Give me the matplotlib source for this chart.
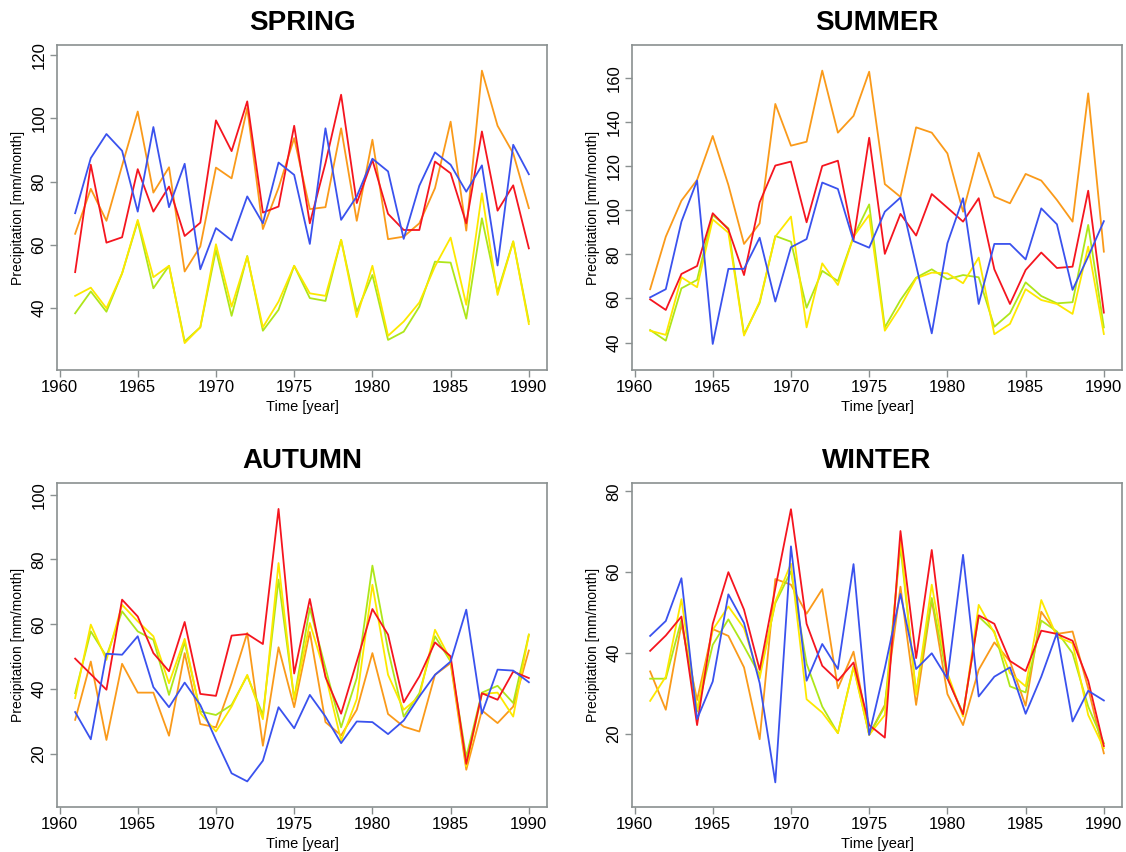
import numpy as np
import matplotlib
matplotlib.use("Agg")
import matplotlib.pyplot as plt

plt.rcParams['font.family'] = ['Liberation Sans', 'DejaVu Sans']

years = np.arange(1961, 1991)

# seasonal precipitation [mm/month], one list per coloured series
spring_red = [51.4, 85.3, 60.7, 62.4, 83.9, 70.5, 78.4, 62.8, 67.0, 99.3, 89.6, 105.3, 70.2, 72.1, 97.6,
              66.8, 85.8, 107.4, 73.2, 86.8, 69.8, 64.7, 64.7, 86.3, 82.6, 66.8, 95.8, 70.8, 78.8, 58.9]
spring_orange = [63.5, 77.7, 67.6, 85.0, 102.1, 76.5, 84.5, 51.6, 59.5, 84.4, 81.0, 103.2, 65.0, 78.0, 93.7,
                 71.3, 71.9, 96.8, 67.6, 93.2, 61.8, 62.6, 66.8, 77.9, 98.9, 64.5, 115.0, 97.6, 88.9, 71.6]
spring_blue = [70.0, 87.4, 95.0, 89.7, 70.5, 97.2, 71.9, 85.6, 52.3, 65.3, 61.4, 75.3, 66.8, 86.0, 82.1,
               60.3, 96.8, 67.9, 75.3, 87.2, 83.2, 61.9, 78.7, 89.2, 85.3, 76.8, 85.1, 53.5, 91.6, 82.3]
spring_yellow = [43.9, 46.5, 40.0, 51.0, 67.9, 49.8, 53.4, 29.0, 34.0, 60.2, 40.5, 56.3, 34.0, 42.1, 53.4,
                 44.7, 43.9, 61.6, 37.2, 53.4, 31.3, 35.8, 41.8, 53.2, 62.3, 41.1, 76.3, 44.2, 61.1, 35.0]
spring_green = [38.4, 45.3, 38.9, 51.0, 67.4, 46.3, 53.4, 29.5, 34.0, 58.4, 37.6, 56.5, 32.9, 39.5, 53.4,
                43.2, 42.3, 61.6, 38.9, 50.5, 30.0, 32.6, 40.5, 54.7, 54.4, 36.7, 68.4, 45.1, 61.1, 35.8]

summer_red = [59.6, 54.8, 71.1, 74.7, 98.6, 91.3, 70.6, 103.5, 120.2, 122.0, 94.5, 120.0, 122.4, 86.5, 132.8,
              80.2, 98.3, 88.5, 107.3, 101.1, 94.8, 105.4, 73.2, 57.5, 72.9, 80.8, 73.8, 74.4, 108.8, 53.6]
summer_orange = [64.2, 88.0, 104.3, 113.7, 133.6, 111.4, 84.7, 94.0, 148.1, 129.2, 131.0, 163.2, 135.1, 142.7, 162.7,
                 111.8, 106.0, 137.5, 135.1, 125.7, 99.3, 126.0, 106.1, 103.1, 116.4, 113.4, 104.6, 94.8, 152.9, 81.2]
summer_blue = [60.5, 64.2, 94.8, 113.4, 39.4, 73.4, 73.4, 87.5, 58.6, 83.2, 86.9, 112.5, 109.6, 86.0, 83.0,
               99.3, 105.7, 75.0, 44.2, 85.0, 105.4, 57.5, 84.7, 84.7, 77.7, 100.8, 93.6, 63.9, 79.0, 95.0]
summer_yellow = [45.4, 43.5, 69.6, 65.1, 95.8, 89.8, 43.2, 58.6, 88.0, 97.1, 46.9, 75.9, 66.1, 88.0, 97.8,
                 45.4, 56.3, 69.1, 71.7, 71.4, 66.9, 78.5, 43.8, 48.5, 64.2, 59.3, 57.5, 53.0, 83.5, 43.9]
summer_green = [45.7, 40.9, 64.6, 68.4, 97.8, 91.8, 43.8, 58.0, 88.3, 85.7, 55.8, 72.5, 67.9, 88.0, 102.6,
                46.9, 59.3, 69.4, 73.2, 68.7, 70.6, 69.6, 47.2, 53.3, 67.3, 61.1, 57.8, 58.3, 93.3, 46.9]

autumn_red = [49.4, 44.6, 39.8, 67.6, 62.4, 51.1, 45.5, 60.7, 38.5, 37.9, 56.5, 57.0, 53.9, 95.6, 44.8,
              67.8, 43.7, 32.4, 48.5, 64.7, 56.8, 35.9, 43.9, 54.4, 50.1, 16.9, 38.7, 36.7, 45.4, 43.4]
autumn_orange = [30.5, 48.5, 24.3, 47.8, 38.9, 38.9, 25.6, 51.1, 29.2, 28.2, 41.8, 57.3, 22.5, 52.9, 34.4,
                 57.6, 29.8, 25.7, 33.6, 51.1, 32.3, 28.4, 26.9, 44.4, 48.0, 15.1, 33.4, 29.5, 34.6, 51.9]
autumn_blue = [32.9, 24.5, 50.9, 50.6, 56.3, 40.6, 34.4, 42.0, 35.1, 24.3, 14.0, 11.5, 17.9, 34.4, 27.9,
               38.2, 31.5, 23.3, 30.0, 29.8, 26.1, 30.3, 37.7, 44.4, 48.5, 64.5, 32.4, 46.0, 45.7, 42.1]
autumn_yellow = [37.2, 59.9, 49.0, 66.0, 60.9, 56.3, 41.8, 55.5, 32.6, 26.9, 34.6, 44.4, 30.7, 78.9, 36.7,
                 60.4, 44.4, 24.1, 36.9, 72.2, 44.4, 33.6, 37.7, 58.3, 49.0, 16.1, 38.5, 38.9, 31.5, 56.8]
autumn_green = [38.7, 57.8, 50.1, 64.0, 57.8, 55.2, 38.2, 54.5, 33.1, 32.0, 35.1, 44.1, 32.0, 73.8, 37.0,
                65.0, 46.5, 28.2, 43.4, 78.1, 52.1, 31.5, 38.7, 56.3, 48.5, 19.0, 38.9, 41.0, 35.7, 56.8]

winter_red = [40.5, 44.3, 49.0, 22.1, 47.2, 60.0, 50.7, 35.8, 56.0, 75.6, 47.2, 36.8, 33.1, 37.6, 22.1,
              19.0, 70.2, 38.7, 65.5, 33.7, 24.8, 49.3, 47.2, 38.0, 35.5, 45.5, 44.7, 43.0, 33.1, 16.9]
winter_orange = [35.4, 25.9, 47.2, 28.3, 45.9, 44.2, 36.4, 18.6, 58.3, 56.9, 49.7, 55.8, 31.2, 40.3, 19.7,
                 27.1, 56.4, 27.1, 53.1, 29.8, 22.1, 35.8, 42.6, 37.9, 26.9, 50.2, 44.7, 45.3, 31.2, 15.1]
winter_blue = [44.2, 47.9, 58.5, 23.6, 32.9, 54.5, 47.4, 32.5, 7.9, 66.4, 33.1, 42.2, 36.0, 62.0, 19.7,
               36.2, 54.6, 36.0, 39.9, 33.6, 64.3, 29.2, 34.1, 36.4, 24.9, 34.1, 44.9, 23.0, 30.6, 28.2]
winter_yellow = [28.1, 34.1, 53.3, 25.9, 45.7, 51.5, 46.1, 33.7, 52.7, 62.1, 28.5, 25.2, 20.1, 36.4, 19.7,
                 24.6, 68.0, 29.6, 56.9, 35.0, 24.2, 51.9, 44.9, 35.0, 31.7, 53.1, 44.0, 42.4, 24.6, 16.4]
winter_green = [33.6, 33.6, 48.2, 25.5, 42.0, 48.3, 41.6, 34.5, 52.3, 60.2, 37.3, 26.7, 20.1, 36.6, 19.7,
                26.7, 66.4, 30.0, 53.6, 33.7, 25.0, 49.0, 45.3, 31.7, 30.2, 48.0, 45.3, 39.9, 26.7, 17.6]

seasons = ["SPRING", "SUMMER", "AUTUMN", "WINTER"]
season_data = [
    [spring_orange, spring_green, spring_yellow, spring_red, spring_blue],
    [summer_orange, summer_green, summer_yellow, summer_red, summer_blue],
    [autumn_orange, autumn_green, autumn_yellow, autumn_red, autumn_blue],
    [winter_orange, winter_green, winter_yellow, winter_red, winter_blue],
]
colors = ["#fa9a1a", "#aee61a", "#fde800", "#f5151f", "#3a52ee"]
ylims = [(20.5, 123.1), (27.6, 174.8), (3.6, 103.6), (1.8, 82.1)]
yticks = [[40, 60, 80, 100, 120], [40, 60, 80, 100, 120, 140, 160], [20, 40, 60, 80, 100], [20, 40, 60, 80]]

W, H = 1126, 852
fig = plt.figure(figsize=(W / 100, H / 100), dpi=100)
# panel boxes in pixels: (left, top, right, bottom)
boxes = [(57, 45, 547, 370), (632, 45, 1122, 370), (57, 483, 547, 807), (632, 483, 1122, 807)]
frame_col = "#8a9090"

for k in range(4):
    l, t, r, b = boxes[k]
    ax = fig.add_axes([l / W, 1 - b / H, (r - l) / W, (b - t) / H])
    for series, c in zip(season_data[k], colors):
        ax.plot(years, series, color=c, lw=1.3)
    ax.set_xlim(1959.84, 1991.16)
    ax.set_ylim(*ylims[k])
    ax.set_xticks([1960, 1965, 1970, 1975, 1980, 1985, 1990])
    ax.set_yticks(yticks[k])
    for s in ax.spines.values():
        s.set_color(frame_col)
        s.set_linewidth(1.2)
    ax.tick_params(colors=frame_col, labelcolor="black", labelsize=12, length=5, width=1.0, pad=2.5)
    for lab in ax.get_yticklabels():
        lab.set_rotation(90)
        lab.set_va("center")
    fig.text((l + r) / 2 / W, 1 - (t - 22) / H, seasons[k], ha="center", va="center",
             fontsize=20, fontweight="bold")
    fig.text((l + r) / 2 / W, 1 - (b + 37) / H, "Time [year]", ha="center", va="center", fontsize=10.5)
    fig.text((l - 39) / W, 1 - (t + b) / 2 / H, "Precipitation [mm/month]", ha="center", va="center",
             rotation=90, fontsize=10)

fig.savefig("out.png", dpi=100)
